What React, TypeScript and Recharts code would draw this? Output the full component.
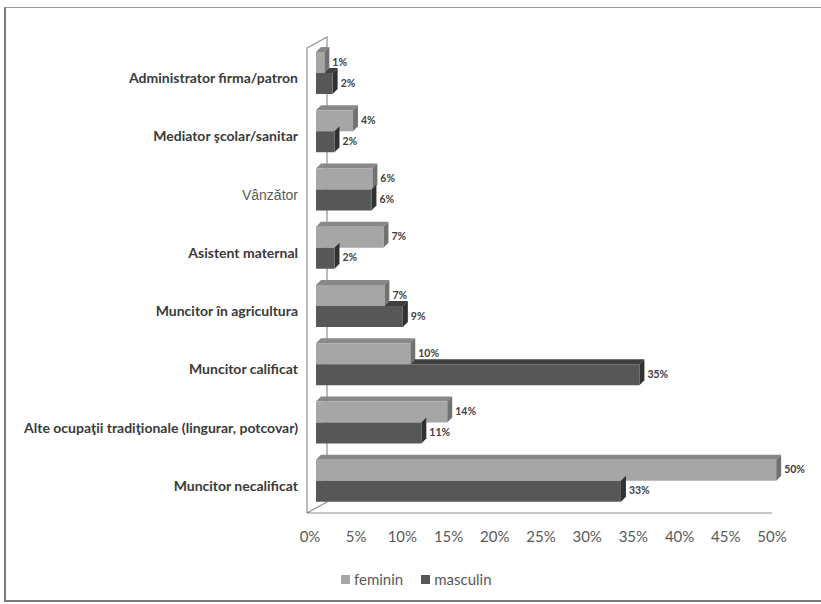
import React from 'react'
import { BarChart, Bar, XAxis, YAxis, LabelList } from 'recharts'

const categories = [
  'Administrator firma/patron',
  'Mediator şcolar/sanitar',
  'Vânzător',
  'Asistent maternal',
  'Muncitor în agricultura',
  'Muncitor calificat',
  'Alte ocupaţii tradiţionale (lingurar, potcovar)',
  'Muncitor necalificat',
]
const feminin = [0.9, 4, 6.1, 7.3, 7.4, 10.2, 14.2, 49.8]
const masculin = [1.8, 2, 6, 2, 9.4, 35, 11.4, 33]
const xTicks = [0, 5, 10, 15, 20, 25, 30, 35, 40, 45, 50]

const data = categories.map((name, i) => ({
  name,
  feminin: feminin[i],
  masculin: masculin[i],
}))

const W = 821
const H = 604
const X_AXIS_H = 30
const M = { top: 44, right: 43, bottom: 94 - X_AXIS_H, left: 0 }
const Y_AXIS_W = 316
const PX = Y_AXIS_W
const PY = M.top
const PW = W - M.right - PX
const PH = H - M.bottom - X_AXIS_H - PY
const D = 5

const LIGHT = { front: '#a6a6a6', top: '#888888', side: '#717171' }
const DARK = { front: '#575757', top: '#3f3f3f', side: '#313131' }

function LightBar(props: any) {
  const { x, y, width: w, height: h } = props
  if (!w || w <= 0) return null
  return (
    <g>
      <polygon
        points={`${x},${y} ${x + D},${y - D} ${x + w + D},${y - D} ${x + w},${y}`}
        fill={LIGHT.top}
      />
      <polygon
        points={`${x + w},${y} ${x + w + D},${y - D} ${x + w + D},${y + h - D} ${x + w},${y + h}`}
        fill={LIGHT.side}
      />
      <rect x={x} y={y} width={w} height={h} fill={LIGHT.front} />
    </g>
  )
}

function DarkBar(props: any) {
  const { x, y, width: w, height: h, payload } = props
  if (!w || w <= 0) return null
  const ratio = Math.min(1, payload.feminin / payload.masculin)
  const ts = x + w * ratio
  return (
    <g>
      {ratio < 1 && (
        <polygon
          points={`${ts},${y} ${ts + D},${y - D} ${x + w + D},${y - D} ${x + w},${y}`}
          fill={DARK.top}
        />
      )}
      <polygon
        points={`${x + w},${y} ${x + w + D},${y - D} ${x + w + D},${y + h - D} ${x + w},${y + h}`}
        fill={DARK.side}
      />
      <rect x={x} y={y} width={w} height={h} fill={DARK.front} />
    </g>
  )
}

function BarLabel(props: any) {
  const { x, y, width, height, value } = props
  return (
    <text
      x={x + width + D + 3}
      y={y + height / 2 + 3}
      fontSize={10.5}
      fontWeight={700}
      fontFamily="Lato, 'Noto Sans', sans-serif"
      fill="#404040"
    >
      {Math.round(value)}%
    </text>
  )
}

function CategoryTick(props: any) {
  const { x, y, payload } = props
  const plain = payload.value === 'Vânzător'
  return (
    <text
      x={x}
      y={y + 10}
      textAnchor="end"
      fontSize={14}
      fontWeight={plain ? 400 : 700}
      fontFamily={plain ? "'Liberation Sans', Arial, sans-serif" : "Lato, 'Noto Sans', sans-serif"}
      fill={plain ? '#5a5a5a' : '#3a3a3a'}
    >
      {payload.value}
    </text>
  )
}

function LegendBox() {
  const items = [
    { label: 'feminin', color: LIGHT.front },
    { label: 'masculin', color: DARK.front },
  ]
  return (
    <div
      style={{
        position: 'absolute',
        left: 341,
        top: 570,
        display: 'flex',
        gap: 18,
        fontFamily: "Lato, 'Noto Sans', sans-serif",
        fontSize: 15,
        color: '#595959',
      }}
    >
      {items.map((it) => (
        <span key={it.label} style={{ display: 'flex', alignItems: 'center' }}>
          <span
            style={{ width: 9, height: 9, background: it.color, marginRight: 4, display: 'inline-block' }}
          />
          {it.label}
        </span>
      ))}
    </div>
  )
}

// 3D wall and floor outlines drawn behind the plot
function Wall() {
  const fx = PX - 9
  const bx = PX + 11
  const fb = PY + PH + 3
  const bb = PY + PH - 8
  const stroke = '#8f8f8f'
  return (
    <svg width={W} height={H} style={{ position: 'absolute', left: 0, top: 0 }}>
      <path
        d={`M${fx},${fb} L${fx},${PY + 4} L${bx},${PY - 7} L${bx},${bb} L${fx},${fb} L${PX + PW - 6},${fb}`}
        fill="none"
        stroke={stroke}
        strokeWidth={1.2}
      />
    </svg>
  )
}

export default function App() {
  return (
    <div
      style={{
        position: 'fixed',
        left: 0,
        top: 0,
        width: W,
        height: H,
        overflow: 'hidden',
        background: '#fff',
      }}
    >
      <div
        style={{
          position: 'absolute',
          left: 4,
          top: 7,
          width: 900,
          height: 592,
          border: '2px solid #7a7a7a',
          borderTopWidth: 1.5,
          borderTopColor: '#999',
        }}
      />
      <Wall />
      <div style={{ position: 'absolute', left: 0, top: 0 }}>
        <BarChart layout="vertical" width={W} height={H} data={data} margin={M} barGap={0}>
          <XAxis
            type="number"
            domain={[0, 50]}
            ticks={xTicks}
            interval={0}
            height={X_AXIS_H}
            axisLine={false}
            tickLine={false}
            tickMargin={15}
            tickFormatter={(v) => `${v}%`}
            tick={{ fontSize: 15, fill: '#595959', fontFamily: "Lato, 'Noto Sans', sans-serif", dx: -6 }}
          />
          <YAxis
            type="category"
            dataKey="name"
            width={Y_AXIS_W}
            axisLine={false}
            tickLine={false}
            tickMargin={12}
            interval={0}
            tick={<CategoryTick />}
          />
          <Bar dataKey="feminin" barSize={21} shape={<LightBar />} isAnimationActive={false}>
            <LabelList dataKey="feminin" content={<BarLabel />} />
          </Bar>
          <Bar dataKey="masculin" barSize={21} shape={<DarkBar />} isAnimationActive={false}>
            <LabelList dataKey="masculin" content={<BarLabel />} />
          </Bar>
        </BarChart>
      </div>
      <LegendBox />
    </div>
  )
}
